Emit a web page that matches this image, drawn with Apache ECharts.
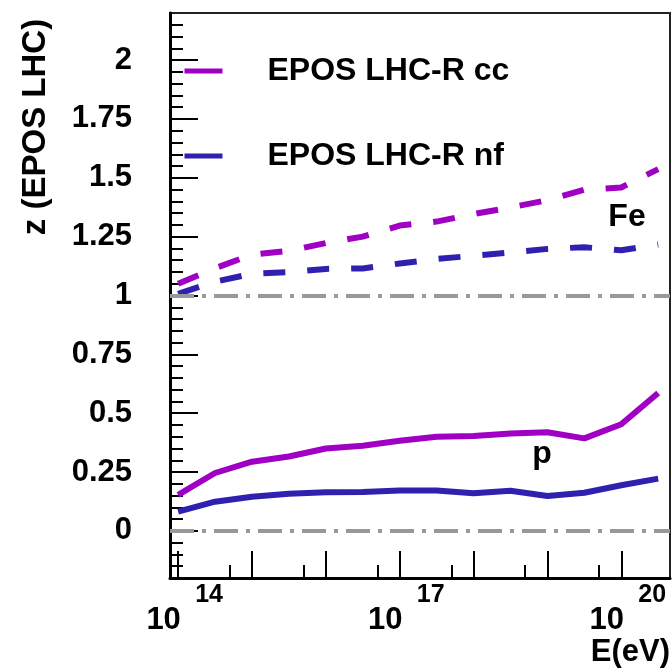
<!DOCTYPE html>
<html>
<head>
<meta charset="utf-8">
<script src="https://cdn.jsdelivr.net/npm/echarts@6/dist/echarts.min.js"></script>
<style>
  html, body { margin: 0; padding: 0; background: #fff; }
  #chart { width: 672px; height: 671px; }
</style>
</head>
<body>
<div id="chart"></div>
<script>
// x is log10(E / eV)
var logE = [14, 14.5, 15, 15.5, 16, 16.5, 17, 17.5, 18, 18.5, 19, 19.5, 20, 20.5];

// proton (solid)
var pCC = [0.153, 0.246, 0.294, 0.316, 0.350, 0.362, 0.383, 0.400, 0.403, 0.414, 0.419, 0.393, 0.453, 0.586];
var pNF = [0.082, 0.124, 0.145, 0.158, 0.164, 0.165, 0.172, 0.172, 0.160, 0.171, 0.148, 0.162, 0.194, 0.222];

// iron (dashed)
var feCC = [1.050, 1.116, 1.174, 1.190, 1.223, 1.250, 1.297, 1.314, 1.346, 1.374, 1.405, 1.449, 1.459, 1.537];
var feNF = [1.007, 1.059, 1.092, 1.099, 1.113, 1.115, 1.136, 1.155, 1.169, 1.183, 1.198, 1.205, 1.192, 1.217];

var xMajorTicks = [14, 15, 16, 17, 18, 19, 20];
var xMinorTicks = [14.699, 15.699, 16.699, 17.699, 18.699, 19.699];
var xLabels = [14, 17, 20];
var yLabels = [0, 0.25, 0.5, 0.75, 1, 1.25, 1.5, 1.75, 2];
var yMinorTicks = [];
for (var t = -0.15; t < 2.19; t += 0.05) yMinorTicks.push(Math.round(t * 100) / 100);

var cMag = '#a000c4';
var cBlue = '#3020b0';
var FONT = 'Liberation Sans';

function pairs(ys) {
  return logE.map(function (x, i) { return [x, ys[i]]; });
}

var myChart = echarts.init(document.getElementById('chart'));

var option = {
  animation: false,
  textStyle: { fontFamily: FONT },
  grid: {
    left: 170, top: 13, right: 2, bottom: 93,
    show: true, borderColor: '#222', borderWidth: 2
  },
  legend: {
    data: ['EPOS LHC-R cc', 'EPOS LHC-R nf'],
    orient: 'vertical',
    left: 177, top: 49,
    itemWidth: 38, itemHeight: 5,
    itemGap: 51,
    itemStyle: { opacity: 0 },
    lineStyle: { type: 'solid', width: 5, cap: 'butt' },
    textStyle: { fontFamily: FONT, fontWeight: 'bold', fontSize: 32, lineHeight: 34, color: '#000', padding: [0, 0, 0, 40] }
  },
  xAxis: [
    {
      // decades, "10" part of the labels
      type: 'value', position: 'bottom', min: 13.89, max: 20.66,
      axisLine: { onZero: false, lineStyle: { color: '#000', width: 3 } },
      axisTick: { show: true, inside: true, length: 27, customValues: xMajorTicks, lineStyle: { color: '#000', width: 2 } },
      splitLine: { show: false },
      axisLabel: {
        customValues: xLabels, margin: 27, color: '#000',
        fontFamily: FONT, fontWeight: 'bold', fontSize: 31, lineHeight: 31,
        padding: [0, 29, 0, 0],
        formatter: function () { return '10'; }
      }
    },
    {
      // 5x10^n ticks, exponent part of the labels
      type: 'value', position: 'bottom', min: 13.89, max: 20.66,
      axisLine: { show: false, onZero: false },
      axisTick: { show: true, inside: true, length: 13, customValues: xMinorTicks, lineStyle: { color: '#000', width: 2 } },
      splitLine: { show: false },
      axisLabel: {
        customValues: xLabels, margin: 5, color: '#000',
        fontFamily: FONT, fontWeight: 'bold', fontSize: 25, lineHeight: 25,
        padding: [0, 0, 0, 62],
        formatter: function (v) { return String(Math.round(v)); }
      }
    }
  ],
  yAxis: [
    {
      type: 'value', position: 'left', min: -0.2, max: 2.2,
      axisLine: { show: true, onZero: false, lineStyle: { color: '#000', width: 3 } },
      axisTick: { show: true, inside: true, length: 28, customValues: yLabels, lineStyle: { color: '#000', width: 2 } },
      splitLine: { show: false },
      axisLabel: {
        customValues: yLabels, margin: 38, color: '#000',
        fontFamily: FONT, fontWeight: 'bold', fontSize: 31,
        formatter: function (v) { return String(+v.toFixed(2)); }
      }
    },
    {
      type: 'value', position: 'left', min: -0.2, max: 2.2,
      axisLine: { show: false, onZero: false },
      axisTick: { show: true, inside: true, length: 13, customValues: yMinorTicks, lineStyle: { color: '#000', width: 2 } },
      axisLabel: { show: false },
      splitLine: { show: false }
    }
  ],
  series: [
    {
      name: 'EPOS LHC-R cc', type: 'line', data: pairs(pCC),
      symbol: 'none', color: cMag,
      lineStyle: { color: cMag, width: 6 },
      markLine: {
        silent: true, symbol: 'none', label: { show: false },
        lineStyle: { color: '#999', width: 4, type: [24, 8, 4, 8], cap: 'butt' },
        data: [{ yAxis: 1 }, { yAxis: 0 }]
      }
    },
    {
      name: 'EPOS LHC-R nf', type: 'line', data: pairs(pNF),
      symbol: 'none', color: cBlue,
      lineStyle: { color: cBlue, width: 6 }
    },
    {
      name: 'Fe cc', type: 'line', data: pairs(feCC),
      symbol: 'none', color: cMag,
      lineStyle: { color: cMag, width: 6, type: [22, 22] }
    },
    {
      name: 'Fe nf', type: 'line', data: pairs(feNF),
      symbol: 'none', color: cBlue,
      lineStyle: { color: cBlue, width: 6, type: [22, 22] }
    }
  ],
  graphic: [
    {
      type: 'text', x: 36, y: 127, rotation: Math.PI / 2,
      style: { text: 'z (EPOS LHC)', font: 'bold 33px "Liberation Sans"', fill: '#000', textAlign: 'center', textVerticalAlign: 'middle' }
    },
    {
      type: 'text', x: 670, y: 652,
      style: { text: 'E(eV)', font: 'bold 31px "Liberation Sans"', fill: '#000', textAlign: 'right', textVerticalAlign: 'middle' }
    },
    {
      type: 'text', x: 627, y: 217,
      style: { text: 'Fe', font: 'bold 32px "Liberation Sans"', fill: '#000', textAlign: 'center', textVerticalAlign: 'middle' }
    },
    {
      type: 'text', x: 542, y: 454,
      style: { text: 'p', font: 'bold 32px "Liberation Sans"', fill: '#000', textAlign: 'center', textVerticalAlign: 'middle' }
    }
  ]
};

myChart.setOption(option);
window.addEventListener('resize', function () { myChart.resize(); });
</script>
</body>
</html>
